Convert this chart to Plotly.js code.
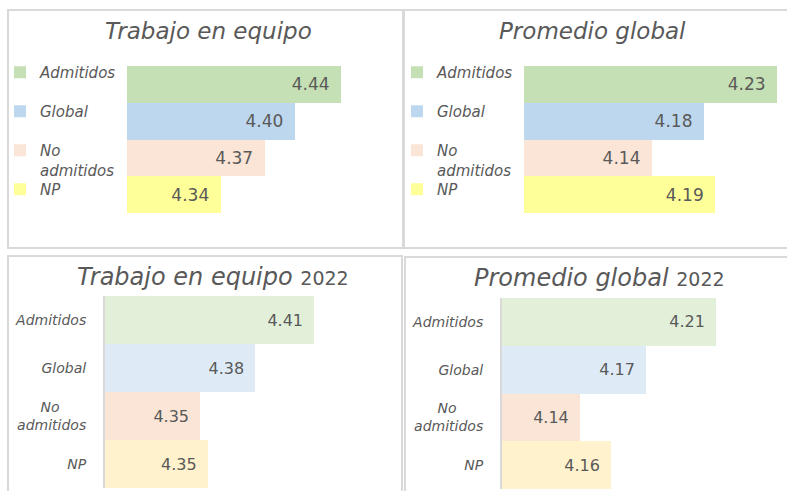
<!DOCTYPE html>
<html>
<head>
<meta charset="utf-8">
<script src="https://cdn.plot.ly/plotly-3.0.1.min.js"></script>
<style>html,body{margin:0;padding:0;background:#fff;}#chart{width:787px;height:491px;}</style>
</head>
<body>
<div id="chart"></div>
<script>
// ---- data ----
const categories = ['Admitidos', 'Global', 'No admitidos', 'NP'];
const legendLabels = ['Admitidos', 'Global', 'No<br>admitidos', 'NP'];
const tickLabels = ['Admitidos', 'Global', 'No&nbsp;&nbsp;&nbsp;&nbsp;&nbsp;&nbsp;<br>admitidos', 'NP'];
const trabajoEquipo = [4.44, 4.40, 4.374, 4.336];
const promedioGlobal = [4.23, 4.178, 4.141, 4.186];
const trabajoEquipo2022 = [4.41, 4.379, 4.35, 4.354];
const promedioGlobal2022 = [4.21, 4.174, 4.14, 4.156];
const titles = ['Trabajo en equipo', 'Promedio global', 'Trabajo en equipo', 'Promedio global'];
const titleYear = '2022';

// ---- styles ----
const colorsTop = ['#C5E0B4', '#BDD7EE', '#FBE5D6', '#FFFF99'];
const colorsBottom = ['#E2F0D9', '#DEEBF7', '#FBE5D6', '#FFF2CC'];
const W = 787, H = 491;
const fx = p => p / W;
const fy = p => 1 - p / H;
const GRAY = '#595959';
const FAM = 'DejaVu Sans';

const traces = [];
const valueFontTop = {family: FAM, size: 17, color: GRAY};
const valueFontBottom = {family: FAM, size: 16, color: GRAY};

// top panels: one trace per category (legend entries)
const topPanels = [
  {vals: trabajoEquipo, xa: 'x', ya: 'y', legStart: 1},
  {vals: promedioGlobal, xa: 'x2', ya: 'y2', legStart: 5}
];
topPanels.forEach(p => {
  categories.forEach((c, i) => {
    const n = p.legStart + i;
    traces.push({
      type: 'bar', orientation: 'h',
      x: [p.vals[i]], y: [c],
      xaxis: p.xa, yaxis: p.ya,
      name: legendLabels[i],
      legend: n === 1 ? 'legend' : 'legend' + n,
      marker: {color: colorsTop[i], line: {width: 0}},
      texttemplate: '%{x:.2f}\u2002',
      textposition: 'inside', insidetextanchor: 'end',
      textfont: valueFontTop, insidetextfont: valueFontTop,
      constraintext: 'none',
      hoverinfo: 'skip'
    });
  });
});

// bottom panels: single trace each
[[trabajoEquipo2022, 'x3', 'y3'], [promedioGlobal2022, 'x4', 'y4']].forEach(([vals, xa, ya]) => {
  traces.push({
    type: 'bar', orientation: 'h',
    x: vals, y: categories,
    xaxis: xa, yaxis: ya,
    showlegend: false,
    marker: {color: colorsBottom, line: {width: 0}},
    texttemplate: '%{x:.2f}\u2002',
    textposition: 'inside', insidetextanchor: 'end',
    textfont: valueFontBottom, insidetextfont: valueFontBottom,
    constraintext: 'none',
    hoverinfo: 'skip'
  });
});

function xAxis(d0, d1, min, scale, anchor) {
  return {
    domain: [fx(d0), fx(d1)],
    range: [min, min + (d1 - d0) / scale],
    anchor: anchor,
    visible: false, fixedrange: true
  };
}
function yAxis(t, b, showLabels, anchor) {
  return {
    domain: [fy(b), fy(t)],
    anchor: anchor,
    type: 'category',
    categoryorder: 'array', categoryarray: categories,
    range: [3.5, -0.5],
    showgrid: false, zeroline: false,
    showticklabels: showLabels,
    tickvals: categories, ticktext: tickLabels,
    tickfont: {family: FAM, size: 14, color: GRAY, style: 'italic'},
    ticks: '', ticklabelstandoff: 14,
    showline: showLabels, linecolor: '#D9D9D9', linewidth: 2,
    fixedrange: true
  };
}

const layout = {
  width: W, height: H,
  margin: {l: 0, r: 0, t: 0, b: 0},
  paper_bgcolor: '#ffffff', plot_bgcolor: 'rgba(0,0,0,0)',
  barmode: 'overlay', bargap: 0,
  hovermode: false,
  xaxis: xAxis(127, 395, 4.255, 1157, 'y'),
  yaxis: yAxis(66, 213, false, 'x'),
  xaxis2: xAxis(524, 787, 4.05, 1406, 'y2'),
  yaxis2: yAxis(66, 213, false, 'x2'),
  xaxis3: xAxis(105, 395, 4.30, 1900, 'y3'),
  yaxis3: yAxis(296, 488, true, 'x3'),
  xaxis4: xAxis(502, 780, 4.10, 1945, 'y4'),
  yaxis4: yAxis(298, 489, true, 'x4'),
  shapes: [
    [8, 10, 403, 248], [404, 10, 800, 248], [8, 256, 402, 500], [405, 257, 800, 500]
  ].map(r => ({
    type: 'rect', xref: 'paper', yref: 'paper', layer: 'below',
    x0: fx(r[0]), x1: fx(r[2]), y0: fy(r[1]), y1: fy(r[3]),
    line: {color: '#D9D9D9', width: 2}, fillcolor: 'rgba(0,0,0,0)'
  })),
  annotations: [
    {t: titles[0], x: 208, y: 31, size: 23, year: false},
    {t: titles[1], x: 592, y: 31, size: 23, year: false},
    {t: titles[2], x: 213, y: 277, size: 24, year: true},
    {t: titles[3], x: 599, y: 278, size: 24, year: true}
  ].map(a => ({
    xref: 'paper', yref: 'paper', x: fx(a.x), y: fy(a.y),
    xanchor: 'center', yanchor: 'middle', showarrow: false,
    text: a.year ? a.t + ' <span style="font-style:normal;font-size:19px">' + titleYear + '</span>' : a.t,
    font: {family: FAM, size: a.size, color: GRAY, style: 'italic'}
  }))
};

// legends: one per entry so each label can sit exactly beside its bar
const legendTextX = [40, 437];
const legendTopY = [56, 95, 134, 173];
for (let p = 0; p < 2; p++) {
  for (let i = 0; i < 4; i++) {
    const n = p * 4 + i + 1;
    const key = n === 1 ? 'legend' : 'legend' + n;
    layout[key] = {
      x: fx(legendTextX[p] - 40), xanchor: 'left',
      y: fy(legendTopY[i]), yanchor: 'top',
      font: {family: FAM, size: 15, color: GRAY, style: 'italic'},
      bgcolor: 'rgba(0,0,0,0)', borderwidth: 0,
      valign: 'top', itemclick: false, itemdoubleclick: false,
      tracegroupgap: 0
    };
  }
}

Plotly.newPlot('chart', traces, layout, {staticPlot: true, displayModeBar: false});
</script>
</body>
</html>
